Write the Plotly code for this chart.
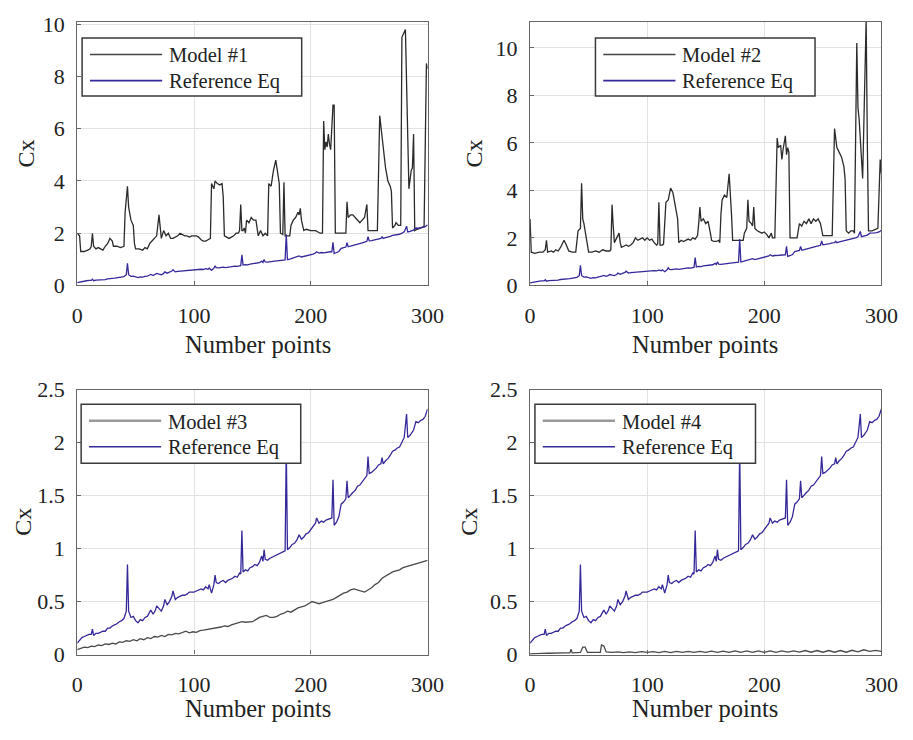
import plotly.graph_objects as go

# ---------------- data ----------------
X_TICKS = [0, 100, 200, 300]
Y_TICKS_TOP = [0, 2, 4, 6, 8, 10]
Y_TICKS_BOTTOM = [0, 0.5, 1, 1.5, 2, 2.5]
Y_TICKTEXT_BOTTOM = ["0", "0.5", "1", "1.5", "2", "2.5"]

REF_X = [0, 2, 4, 6, 8, 10, 12, 13, 14, 16, 18, 20, 22, 24, 26, 28, 30, 32, 34, 36, 38, 40, 42, 43, 44, 46, 48, 50,
         52, 54, 56, 58, 60, 62, 63, 65, 67, 68, 70, 72, 74, 75, 77, 79, 81, 82, 84, 86, 88, 90, 92, 94, 96, 98, 100,
         102, 104, 106, 108, 110, 112, 113, 115, 117, 118, 119, 121, 123, 125, 127, 129, 131, 133, 135, 137, 139, 140,
         141, 142, 144, 146, 148, 150, 152, 154, 156, 158, 159, 160, 161, 163, 165, 167, 169, 171, 173, 175, 177, 178,
         179, 180, 182, 184, 186, 188, 190, 192, 194, 196, 198, 200, 202, 204, 205, 207, 209, 211, 213, 215, 217, 218,
         219, 220, 222, 224, 226, 228, 230, 231, 232, 234, 236, 238, 240, 242, 244, 246, 248, 249, 250, 252, 254, 256,
         258, 260, 261, 262, 264, 266, 268, 270, 272, 274, 276, 278, 280, 282, 283, 285, 287, 288, 290, 292, 294, 296,
         298, 300]
REF_Y = [0.107, 0.13, 0.16, 0.17, 0.18, 0.19, 0.19, 0.24, 0.18, 0.2, 0.2, 0.21, 0.22, 0.22, 0.25, 0.25, 0.27, 0.28,
         0.29, 0.31, 0.32, 0.34, 0.41, 0.85, 0.41, 0.35, 0.36, 0.32, 0.30, 0.33, 0.32, 0.35, 0.36, 0.40, 0.42, 0.38,
         0.42, 0.46, 0.43, 0.41, 0.46, 0.52, 0.47, 0.50, 0.55, 0.60, 0.52, 0.54, 0.55, 0.56, 0.56, 0.57, 0.59, 0.59,
         0.59, 0.60, 0.61, 0.62, 0.61, 0.64, 0.62, 0.66, 0.58, 0.66, 0.75, 0.68, 0.67, 0.69, 0.70, 0.68, 0.70, 0.71,
         0.72, 0.74, 0.73, 0.77, 0.76, 1.17, 0.78, 0.80, 0.79, 0.82, 0.83, 0.85, 0.84, 0.87, 0.93, 0.88, 0.99, 0.90,
         0.89, 0.91, 0.92, 0.93, 0.94, 0.95, 0.96, 0.97, 0.98, 1.95, 0.99, 1.01, 1.04, 1.05, 1.08, 1.13, 1.09, 1.11,
         1.14, 1.15, 1.18, 1.20, 1.24, 1.29, 1.24, 1.26, 1.25, 1.27, 1.28, 1.29, 1.29, 1.65, 1.22, 1.25, 1.30, 1.42,
         1.44, 1.47, 1.64, 1.48, 1.51, 1.53, 1.55, 1.59, 1.60, 1.63, 1.66, 1.69, 1.87, 1.71, 1.72, 1.74, 1.76, 1.79,
         1.80, 1.86, 1.80, 1.83, 1.85, 1.88, 1.92, 1.93, 1.95, 1.96, 2.00, 2.05, 2.27, 2.05, 2.07, 2.10, 2.12, 2.20,
         2.19, 2.21, 2.22, 2.25, 2.32]

M1_X = [0, 2, 3, 6, 9, 11, 12, 13, 14, 16, 18, 20, 22, 24, 26, 28, 30, 31, 34, 37, 40, 41, 43, 44, 46, 48, 49, 50,
        53, 56, 58, 60, 62, 64, 66, 68, 70, 71, 72, 74, 76, 78, 80, 82, 84, 86, 88, 90, 92, 94, 96, 98, 100, 102,
        104, 106, 108, 110, 112, 114, 115, 117, 118, 120, 122, 124, 125, 126, 128, 130, 132, 134, 136, 138, 139, 140,
        141, 142, 143, 144, 145, 147, 149, 151, 153, 154, 155, 157, 159, 161, 163, 164, 166, 168, 170, 171, 173, 174,
        176, 177, 178, 180, 182, 183, 185, 187, 189, 190, 191, 192, 194, 196, 200, 204, 206, 208, 210, 211, 212, 213,
        214, 215, 216, 217, 219, 220, 221, 224, 228, 230, 231, 232, 234, 236, 238, 240, 242, 244, 246, 248, 249, 252,
        256, 257, 259, 260, 262, 264, 266, 268, 269, 270, 272, 273, 275, 277, 278, 281, 282, 284, 286, 287, 288, 289,
        291, 294, 297, 299, 300]
M1_Y = [2.0, 1.9, 1.3, 1.3, 1.35, 1.4, 1.5, 2.0, 1.5, 1.4, 1.45, 1.4, 1.35, 1.5, 1.6, 1.8, 1.7, 1.5, 1.5, 1.45, 1.5,
        2.8, 3.8, 3.0, 2.5, 2.3, 1.6, 1.4, 1.4, 1.35, 1.45, 1.4, 1.6, 1.7, 1.8, 1.9, 2.7, 2.2, 1.8, 2.1, 1.9, 2.0,
        1.8, 1.8, 1.85, 1.9, 2.0, 1.95, 1.9, 1.9, 1.85, 1.9, 1.9, 1.9, 1.85, 1.75, 1.7, 1.7, 1.75, 1.8, 3.9, 3.7,
        4.0, 3.9, 3.85, 3.9, 3.4, 1.9, 1.85, 1.8, 1.85, 1.9, 2.0, 2.0, 2.1, 3.1, 2.1, 2.1, 2.2, 2.0, 2.5, 2.4, 2.6,
        2.5, 2.5, 2.1, 1.9, 2.1, 1.9, 2.0, 1.9, 3.9, 3.8, 4.4, 4.8, 4.5, 3.9, 2.0, 1.95, 3.95, 1.9, 1.9, 1.9, 2.3,
        2.5, 2.6, 2.8, 2.7, 2.95, 2.5, 2.1, 2.15, 2.1, 2.1, 2.05, 2.0, 2.0, 6.3, 5.2, 5.5, 5.3, 5.8, 5.4, 5.2, 6.9,
        6.9, 2.0, 2.0, 2.0, 2.0, 3.2, 2.6, 2.7, 2.7, 2.6, 2.5, 2.4, 2.5, 2.6, 3.1, 2.1, 2.1, 2.1, 2.1, 6.5, 6.0, 5.3,
        4.5, 4.0, 3.8, 3.6, 2.2, 2.3, 2.4, 2.3, 2.3, 9.5, 9.8, 8.0, 3.7, 4.4, 4.5, 5.8, 2.1, 2.15, 2.2, 2.25, 8.5,
        8.3]

M2_X = [0, 1, 4, 8, 11, 13, 14, 15, 18, 20, 22, 24, 26, 28, 29, 31, 33, 36, 39, 41, 43, 44, 45, 46, 48, 50, 53, 56,
        59, 62, 65, 68, 69, 70, 71, 72, 74, 76, 77, 78, 80, 82, 84, 86, 88, 90, 92, 94, 96, 98, 100, 102, 104, 106,
        108, 109, 110, 111, 113, 114, 115, 116, 118, 120, 122, 123, 125, 126, 127, 129, 131, 133, 135, 137, 139, 141,
        143, 144, 145, 146, 148, 150, 152, 154, 155, 157, 159, 161, 162, 163, 164, 166, 168, 170, 171, 172, 173, 176,
        179, 182, 183, 185, 186, 187, 189, 190, 191, 192, 194, 196, 198, 200, 202, 204, 206, 207, 209, 211, 212, 214,
        215, 216, 217, 218, 219, 220, 221, 222, 225, 228, 230, 232, 234, 236, 238, 240, 242, 244, 246, 248, 250, 253,
        256, 258, 260, 261, 262, 264, 266, 268, 269, 270, 272, 274, 276, 277, 279, 280, 281, 284, 287, 288, 289, 292,
        295, 297, 299, 300]
M2_Y = [2.8, 1.4, 1.35, 1.4, 1.4, 1.5, 1.9, 1.4, 1.45, 1.4, 1.5, 1.45, 1.6, 1.8, 1.9, 1.7, 1.45, 1.4, 1.4, 2.3, 2.4,
        4.3, 2.8, 2.6, 2.0, 1.4, 1.4, 1.45, 1.4, 1.5, 1.45, 1.45, 1.5, 3.4, 2.5, 1.8, 2.0, 2.2, 1.8, 1.6, 1.65, 1.7,
        1.65, 1.7, 1.8, 2.0, 1.9, 1.95, 2.0, 1.9, 2.0, 1.9, 1.95, 1.8, 1.7, 1.75, 3.5, 1.7, 1.7, 1.75, 3.0, 3.5, 3.6,
        4.1, 3.9, 3.6, 3.0, 2.8, 1.8, 1.9, 1.85, 1.9, 1.95, 1.9, 2.0, 1.95, 2.1, 2.6, 3.3, 2.7, 2.8, 2.6, 2.7, 2.2,
        1.9, 1.85, 1.85, 1.9, 1.8, 3.0, 3.6, 3.8, 3.7, 4.7, 3.5, 3.0, 1.9, 1.9, 1.9, 1.9, 2.2, 2.4, 3.6, 2.7, 2.6,
        2.5, 3.3, 2.4, 2.3, 2.25, 2.2, 2.25, 2.15, 2.0, 2.2, 2.0, 2.0, 6.2, 5.8, 5.9, 5.3, 5.7, 6.0, 6.3, 5.5, 5.8,
        5.6, 2.0, 2.0, 2.0, 2.6, 2.5, 2.7, 2.6, 2.8, 2.6, 2.8, 2.7, 2.8, 2.6, 2.1, 2.1, 2.1, 2.1, 6.6, 6.2, 5.8, 5.6,
        5.4, 5.0, 4.5, 2.3, 2.2, 2.3, 2.3, 2.2, 10.2, 7.5, 7.0, 4.5, 11.2, 6.0, 2.3, 2.3, 2.35, 2.4, 5.3, 4.7]

M3_X = [0, 3, 6, 9, 12, 15, 18, 21, 24, 27, 30, 33, 36, 39, 42, 45, 48, 51, 54, 57, 60, 63, 66, 69, 72, 75, 78, 81,
        84, 87, 90, 93, 96, 99, 102, 105, 108, 111, 114, 117, 120, 123, 126, 129, 132, 135, 138, 141, 144, 147, 150,
        153, 156, 159, 162, 165, 168, 171, 174, 177, 180, 183, 186, 189, 192, 195, 198, 201, 204, 207, 210, 213, 216,
        219, 222, 225, 228, 231, 234, 237, 240, 243, 246, 249, 252, 255, 258, 261, 264, 267, 270, 273, 276, 279, 282,
        285, 288, 291, 294, 297, 300]
M3_Y = [0.046, 0.06, 0.07, 0.065, 0.08, 0.075, 0.09, 0.085, 0.1, 0.095, 0.107, 0.1, 0.12, 0.115, 0.13, 0.125, 0.14,
        0.13, 0.15, 0.14, 0.16, 0.15, 0.17, 0.165, 0.18, 0.17, 0.19, 0.185, 0.2, 0.195, 0.21, 0.22, 0.205, 0.215,
        0.21, 0.225, 0.23, 0.235, 0.24, 0.25, 0.25, 0.26, 0.27, 0.265, 0.28, 0.29, 0.3, 0.31, 0.305, 0.31, 0.31,
        0.33, 0.35, 0.36, 0.37, 0.35, 0.35, 0.36, 0.38, 0.39, 0.41, 0.40, 0.42, 0.44, 0.45, 0.46, 0.48, 0.50, 0.49,
        0.48, 0.49, 0.50, 0.51, 0.52, 0.54, 0.56, 0.58, 0.59, 0.61, 0.62, 0.61, 0.60, 0.59, 0.61, 0.63, 0.66, 0.68,
        0.72, 0.74, 0.76, 0.78, 0.79, 0.80, 0.82, 0.83, 0.84, 0.85, 0.86, 0.87, 0.88, 0.89]

M4_X = [0, 5, 10, 15, 20, 25, 30, 34, 35, 36, 40, 43, 45, 47, 49, 55, 60, 61, 63, 65, 70, 75, 80, 85, 90, 95, 100,
        105, 110, 115, 120, 125, 130, 135, 140, 145, 150, 155, 160, 165, 170, 175, 180, 185, 190, 195, 200, 205, 210,
        215, 220, 225, 230, 235, 240, 245, 250, 255, 260, 265, 270, 275, 280, 285, 290, 295, 300]
M4_Y = [0.005, 0.01, 0.01, 0.012, 0.015, 0.012, 0.015, 0.015, 0.05, 0.015, 0.015, 0.02, 0.07, 0.07, 0.02, 0.02, 0.02,
        0.09, 0.08, 0.025, 0.02, 0.025, 0.018, 0.025, 0.018, 0.028, 0.02, 0.028, 0.018, 0.03, 0.018, 0.03, 0.02,
        0.03, 0.02, 0.03, 0.02, 0.032, 0.02, 0.032, 0.02, 0.035, 0.02, 0.035, 0.02, 0.035, 0.02, 0.035, 0.02, 0.035,
        0.022, 0.035, 0.022, 0.038, 0.022, 0.038, 0.022, 0.038, 0.022, 0.038, 0.022, 0.04, 0.025, 0.045, 0.03, 0.04,
        0.03]

MODEL_NAMES = ["Model #1", "Model #2", "Model #3", "Model #4"]
MODEL_X = [M1_X, M2_X, M3_X, M4_X]
MODEL_Y = [M1_Y, M2_Y, M3_Y, M4_Y]
REF_NAME = "Reference Eq"
AXIS_X_TITLE = "Number points"
AXIS_Y_TITLE = "Cx"

# ---------------- styles / geometry (pixels) ----------------
MODEL_COLORS = ["#2b2b2b", "#2b2b2b", "#4a4a4a", "#4a4a4a"]
MODEL_KEY_STYLE = [("#444444", 1.6), ("#444444", 1.6), ("#9a9a9a", 2.6), ("#9a9a9a", 2.6)]
REF_COLOR = "#35299a"
W, H = 913, 740
FONT = "Liberation Serif, Times New Roman, serif"
BOXES = [(73, 432, 10, 283), (537, 897, 10, 283), (73, 432, 391, 665), (537, 897, 391, 665)]
Y_RANGES = [[0, 10.1], [0, 11.1], [0, 2.5], [0, 2.5]]
KEY_BOXES = [(78, 303, 27, 87), (604, 829, 27, 87), (77, 302, 406, 467), (542, 768, 406, 467)]
CX_POS = [(21, 146), (480, 146), (18, 528), (475, 528)]
NP_POS = [(258, 344), (716, 344), (258, 721), (716, 721)]


def px(xp):
    return xp / W


def py(yp):
    return 1 - yp / H


fig = go.Figure()
annotations = []
shapes = []
for i in range(4):
    k = "" if i == 0 else str(i + 1)
    fig.add_trace(go.Scatter(x=MODEL_X[i], y=MODEL_Y[i], mode="lines", name=MODEL_NAMES[i],
                             line=dict(color=MODEL_COLORS[i], width=1.3),
                             xaxis="x" + k, yaxis="y" + k, showlegend=False))
    fig.add_trace(go.Scatter(x=REF_X, y=REF_Y, mode="lines", name=REF_NAME,
                             line=dict(color=REF_COLOR, width=1.3),
                             xaxis="x" + k, yaxis="y" + k, showlegend=False))
    l, r, t, b = BOXES[i]
    axcommon = dict(showline=True, mirror=True, linecolor="#666666", linewidth=1.2,
                    ticks="inside", ticklen=4, tickcolor="#666666",
                    showgrid=True, gridcolor="#e2e2e2", gridwidth=1, zeroline=False,
                    tickfont=dict(family=FONT, size=22, color="#222222"))
    fig.update_layout(**{
        "xaxis" + k: dict(domain=[px(l), px(r)], range=[0, 300], tickvals=X_TICKS,
                          anchor="y" + k, ticklabelstandoff=10, **axcommon),
        "yaxis" + k: dict(domain=[py(b), py(t)], range=Y_RANGES[i],
                          tickvals=Y_TICKS_TOP if i < 2 else Y_TICKS_BOTTOM,
                          ticktext=None if i < 2 else Y_TICKTEXT_BOTTOM,
                          anchor="x" + k, ticklabelstandoff=7, **axcommon),
    })
    # axis titles
    annotations.append(dict(text=AXIS_Y_TITLE, x=px(CX_POS[i][0]), y=py(CX_POS[i][1]), xref="paper",
                            yref="paper", showarrow=False, textangle=-90, xanchor="center", yanchor="middle",
                            font=dict(family=FONT, size=24, color="#222222")))
    annotations.append(dict(text=AXIS_X_TITLE, x=px(NP_POS[i][0]), y=py(NP_POS[i][1]), xref="paper",
                            yref="paper", showarrow=False, xanchor="center", yanchor="middle",
                            font=dict(family=FONT, size=24.5, color="#222222")))
    # key box (legend)
    kl, kr, kt, kb = KEY_BOXES[i]
    shapes.append(dict(type="rect", xref="paper", yref="paper", x0=px(kl), x1=px(kr), y0=py(kb), y1=py(kt),
                       fillcolor="white", line=dict(color="#3a3a3a", width=1.5), layer="above"))
    row1 = kt + 17
    row2 = kt + 44
    mc, mw = MODEL_KEY_STYLE[i]
    shapes.append(dict(type="line", xref="paper", yref="paper", x0=px(kl + 8), x1=px(kl + 82),
                       y0=py(row1), y1=py(row1), line=dict(color=mc, width=mw), layer="above"))
    shapes.append(dict(type="line", xref="paper", yref="paper", x0=px(kl + 8), x1=px(kl + 82),
                       y0=py(row2), y1=py(row2), line=dict(color=REF_COLOR, width=1.6), layer="above"))
    annotations.append(dict(text=MODEL_NAMES[i], x=px(kl + 87), y=py(row1 + 1), xref="paper", yref="paper",
                            showarrow=False, xanchor="left", yanchor="middle",
                            font=dict(family=FONT, size=20.5, color="#222222")))
    annotations.append(dict(text=REF_NAME, x=px(kl + 87), y=py(row2 + 1), xref="paper", yref="paper",
                            showarrow=False, xanchor="left", yanchor="middle",
                            font=dict(family=FONT, size=20.5, color="#222222")))

fig.update_layout(width=W, height=H, margin=dict(l=0, r=0, t=0, b=0),
                  paper_bgcolor="white", plot_bgcolor="white", showlegend=False,
                  annotations=annotations, shapes=shapes)

fig.write_html("out.html")
